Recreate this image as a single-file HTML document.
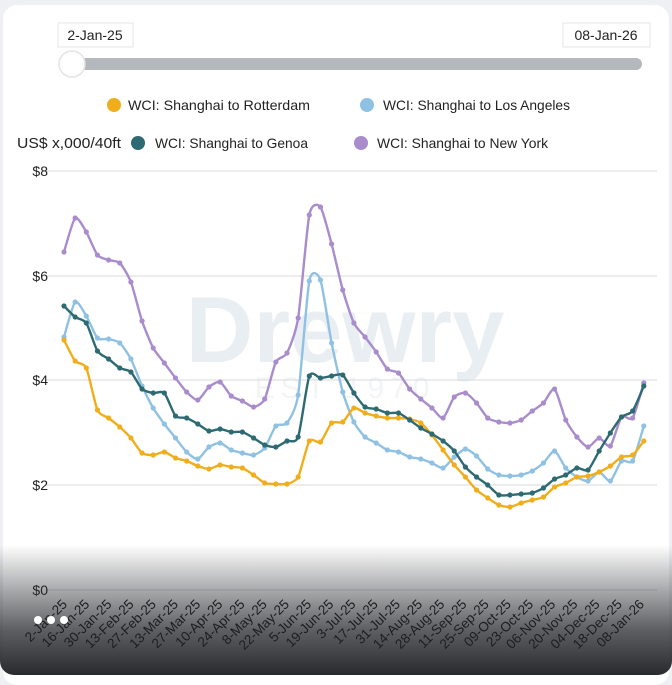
<!DOCTYPE html>
<html><head><meta charset="utf-8"><style>
html,body{margin:0;padding:0;background:#eef0f3;}
body{width:672px;height:675px;position:relative;overflow:hidden;font-family:"Liberation Sans",sans-serif;}
.card{position:absolute;left:3px;top:5px;width:666px;height:680px;background:#fff;border-radius:14px;overflow:hidden;}
.ov{position:absolute;left:0;top:545px;width:672px;height:130px;background:linear-gradient(rgba(40,42,46,0) 0%,rgba(40,42,46,0.35) 30%,rgba(40,42,46,0.75) 65%,rgba(40,42,46,1) 100%);border-radius:0 0 14px 14px;}
</style></head><body>
<div class="card"></div>
<svg style="position:absolute;left:0;top:0" width="672" height="675" viewBox="0 0 672 675" font-family="Liberation Sans, sans-serif">
<rect x="58" y="23" width="75" height="24" fill="#fff" stroke="#e3e5e8"/>
<text x="95" y="40" font-size="14" text-anchor="middle" fill="#222">2-Jan-25</text>
<rect x="563" y="23" width="87" height="24" fill="#fff" stroke="#e3e5e8"/>
<text x="606" y="40" font-size="14" text-anchor="middle" fill="#222">08-Jan-26</text>
<rect x="60" y="58" width="582" height="12" rx="6" fill="#b5b9bd"/>
<circle cx="72" cy="64" r="13" fill="#fff" stroke="#e2e4e6" stroke-width="1.5"/>
<g font-size="14" fill="#222">
<circle cx="114" cy="105" r="7" fill="#f0ae1c"/><text x="128" y="110" textLength="182" lengthAdjust="spacingAndGlyphs">WCI: Shanghai to Rotterdam</text>
<circle cx="367" cy="105" r="7" fill="#8fc1e3"/><text x="383" y="110" textLength="187" lengthAdjust="spacingAndGlyphs">WCI: Shanghai to Los Angeles</text>
<text x="17" y="148" font-size="15" textLength="104" lengthAdjust="spacingAndGlyphs">US$ x,000/40ft</text>
<circle cx="138" cy="143" r="7" fill="#2d6a72"/><text x="155" y="148" textLength="153" lengthAdjust="spacingAndGlyphs">WCI: Shanghai to Genoa</text>
<circle cx="361" cy="143" r="7" fill="#a98ccc"/><text x="377" y="148" textLength="171" lengthAdjust="spacingAndGlyphs">WCI: Shanghai to New York</text>
</g>
<text x="345" y="362" font-size="94" font-weight="bold" text-anchor="middle" fill="#e9eef2">Drewry</text>
<text x="345" y="398" font-size="30" text-anchor="middle" fill="#f2f4f6" letter-spacing="6">EST 1970</text>
<g stroke="#d8dadd" stroke-width="1">
<line x1="46" y1="171" x2="657" y2="171"/><line x1="46" y1="276" x2="657" y2="276"/>
<line x1="46" y1="380" x2="657" y2="380"/><line x1="46" y1="485" x2="657" y2="485"/>
<line x1="46" y1="590" x2="657" y2="590"/>
</g>
<g font-size="14" fill="#222" text-anchor="end">
<text x="48" y="176">$8</text><text x="48" y="281">$6</text><text x="48" y="385">$4</text><text x="48" y="490">$2</text><text x="48" y="595">$0</text>
</g>
<g id="series" fill="none" stroke-width="2.4" stroke-linejoin="round"></g>
</svg>
<div class="ov"></div>
<svg style="position:absolute;left:0;top:0" width="672" height="675" font-family="Liberation Sans, sans-serif">
<g id="labels" font-size="13.5" fill="#1c1d20"></g>
<circle cx="38" cy="620" r="4" fill="#fff"/><circle cx="51" cy="620" r="4" fill="#fff"/><circle cx="64" cy="620" r="4" fill="#fff"/>
</svg>
<script>
var S=[
["#a98ccc",[252,218,232,255,260,263,282,321,348,363,378,392,400,387,382,396,401,407,399,362,353,318,215,207,244,290,323,337,352,369,373,389,399,408,418,397,393,403,418,422,423,420,411,403,389,420,437,447,438,446,417,418,383]],
["#8fc1e3",[337,302,316,338,339,343,359,386,408,424,438,452,459,447,443,450,453,455,448,426,423,395,281,280,343,392,422,437,443,450,452,457,459,463,468,457,449,456,469,475,476,475,471,463,451,468,477,481,472,481,461,461,426]],
["#f0ae1c",[340,361,368,410,418,427,438,453,455,452,458,461,466,469,465,467,468,475,483,484,484,477,441,442,423,422,408,413,416,418,418,419,423,435,450,465,477,490,498,505,507,503,500,497,487,483,477,476,472,466,457,455,441]],
["#2d6a72",[306,317,323,351,359,368,372,389,393,393,416,418,424,431,429,432,432,438,445,447,441,437,376,378,376,375,393,407,409,413,413,420,428,434,441,451,467,477,485,495,495,494,493,488,479,475,468,470,451,433,417,411,386]]];
var ns="http://www.w3.org/2000/svg",g=document.getElementById("series");
S.forEach(function(s){var d="";var xs=[];s[1].forEach(function(y,i){var x=64+i*11.15;xs.push([x,y]);});
var k=9;
for(var i=0;i<xs.length;i++){var p=xs[i];if(i==0){d+="M"+p[0]+","+p[1];}else{var a=xs[i-1],b0=xs[Math.max(i-2,0)],c=xs[Math.min(i+1,xs.length-1)];
var c1x=a[0]+(p[0]-b0[0])/k,c1y=a[1]+(p[1]-b0[1])/k,c2x=p[0]-(c[0]-a[0])/k,c2y=p[1]-(c[1]-a[1])/k;d+=" C"+c1x+","+c1y+" "+c2x+","+c2y+" "+p[0]+","+p[1];}}
var pa=document.createElementNS(ns,"path");pa.setAttribute("d",d);pa.setAttribute("stroke",s[0]);g.appendChild(pa);
xs.forEach(function(p){var c=document.createElementNS(ns,"circle");c.setAttribute("cx",p[0]);c.setAttribute("cy",p[1]);c.setAttribute("r",2.6);c.setAttribute("fill",s[0]);g.appendChild(c);});});
var L=["2-Jan-25","16-Jan-25","30-Jan-25","13-Feb-25","27-Feb-25","13-Mar-25","27-Mar-25","10-Apr-25","24-Apr-25","8-May-25","22-May-25","5-Jun-25","19-Jun-25","3-Jul-25","17-Jul-25","31-Jul-25","14-Aug-25","28-Aug-25","11-Sep-25","25-Sep-25","09-Oct-25","23-Oct-25","06-Nov-25","20-Nov-25","04-Dec-25","18-Dec-25","08-Jan-26"];
var lg=document.getElementById("labels");
L.forEach(function(t,i){var x=68+i*(645-68)/26;var e=document.createElementNS(ns,"text");e.setAttribute("x",x);e.setAttribute("y",605);e.setAttribute("text-anchor","end");e.setAttribute("transform","rotate(-45 "+x+" 605)");e.textContent=t;lg.appendChild(e);});
</script>
</body></html>
